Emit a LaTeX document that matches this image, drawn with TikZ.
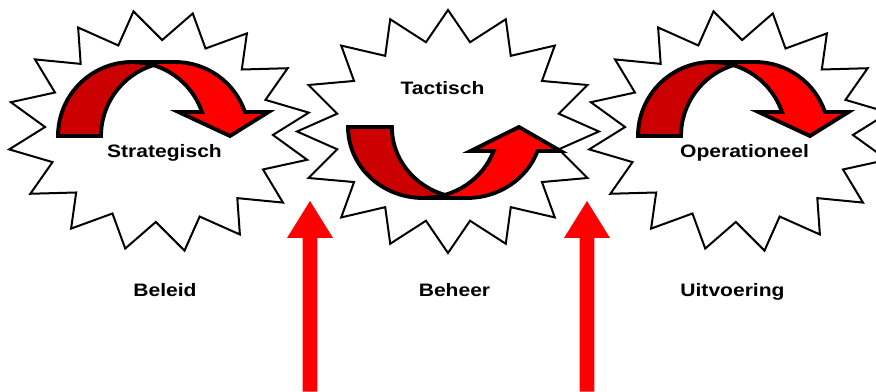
\documentclass[tikz,border=0pt]{standalone}
\usepackage{fontspec}
\setmainfont{Liberation Sans}
\definecolor{brightred}{HTML}{FF0000}
\definecolor{darkred}{HTML}{CC0000}
\newcommand{\mystarburst}[5]{% offset, outer rx, outer ry, inner rx, inner ry
  (#1:#2 and #3)
  \foreach \k in {1,...,15} { -- ({#1+22.5*\k-11.25}:#4 and #5) -- ({#1+22.5*\k}:#2 and #3) }
  -- ({#1+348.75}:#4 and #5) -- cycle}
\begin{document}
\begin{tikzpicture}[x=0.75pt,y=-0.75pt,
  starshape/.style={draw=black,fill=white,line width=1.5pt,line join=miter},
  backband/.style={fill=darkred,draw=black,line width=2.9pt,line join=miter},
  frontband/.style={fill=brightred,draw=black,line width=2.9pt,line join=miter},
  lbl/.style={font=\fontsize{13.5}{16}\selectfont\bfseries,inner sep=0pt,text=black,anchor=base},
  uparrow/.style={fill=brightred,draw=none}]
\useasboundingbox[fill=white] (0,0) rectangle (876,392);

% centres
\coordinate (leftstar) at (159,131);
\coordinate (midstar) at (448,131.5);
\coordinate (rightstar) at (739,131);

% star bursts
\begin{scope}[shift={(leftstar)},rotate=-2]
  \draw[starshape] \mystarburst{11.25}{152}{121}{114}{91};
\end{scope}
\begin{scope}[shift={(midstar)}]
  \draw[starshape] \mystarburst{0}{151}{121.5}{113}{91};
\end{scope}
\begin{scope}[shift={(rightstar)},rotate=-2]
  \draw[starshape] \mystarburst{11.25}{152}{121}{114}{91};
\end{scope}

% curved down arrows (left and right)
\foreach \dx in {0,580}{
\begin{scope}[shift={(132+\dx,136)}]
  \draw[backband] (-74,0) arc[start angle=180,end angle=286.9,x radius=74,y radius=74]
    arc[start angle=253.1,end angle=180,x radius=74,y radius=74] -- cycle;
  \draw[frontband] (98,0) -- (46.5,-24) -- (70,-24)
    arc[start angle=341.1,end angle=270,x radius=74,y radius=74] -- (43,-74)
    arc[start angle=270,end angle=341.1,x radius=74,y radius=74] -- (136.5,-24) -- cycle;
\end{scope}}

% curved up arrow (middle)
\begin{scope}[shift={(423,127)}]
  \draw[backband] (-75,0) arc[start angle=180,end angle=73,x radius=75,y radius=71]
    arc[start angle=107,end angle=180,x radius=75,y radius=71] -- cycle;
  \draw[frontband] (96,0) -- (137.6,24) -- (114.6,24)
    arc[start angle=19.76,end angle=90,x radius=75,y radius=71] -- (0,71)
    arc[start angle=90,end angle=19.76,x radius=75,y radius=71] -- (47.6,24) -- cycle;
\end{scope}

% vertical red arrows
\coordinate (arrA) at (310,201);
\coordinate (arrB) at (587,201);
\foreach \c in {arrA,arrB}{
  \fill[brightred] ([xshift=0]\c) -- ([xshift=17.25pt,yshift=-27.75pt]\c) -- ([xshift=5.6pt,yshift=-27.75pt]\c)
    -- ([xshift=5.6pt,yshift=-143pt]\c) -- ([xshift=-5.6pt,yshift=-143pt]\c)
    -- ([xshift=-5.6pt,yshift=-27.75pt]\c) -- ([xshift=-17.25pt,yshift=-27.75pt]\c) -- cycle;
}

% labels
\node[lbl] (strat) at (164.5,158) {\scalebox{1.17}[1]{Strategisch}};
\node[lbl] (tact) at (442.5,95) {\scalebox{1.17}[1]{Tactisch}};
\node[lbl] (oper) at (744.5,158) {\scalebox{1.17}[1]{Operationeel}};
\node[lbl] (beleid) at (165,297) {\scalebox{1.17}[1]{Beleid}};
\node[lbl] (beheer) at (454.5,297) {\scalebox{1.17}[1]{Beheer}};
\node[lbl] (uitv) at (732.5,297) {\scalebox{1.17}[1]{Uitvoering}};
\end{tikzpicture}
\end{document}
